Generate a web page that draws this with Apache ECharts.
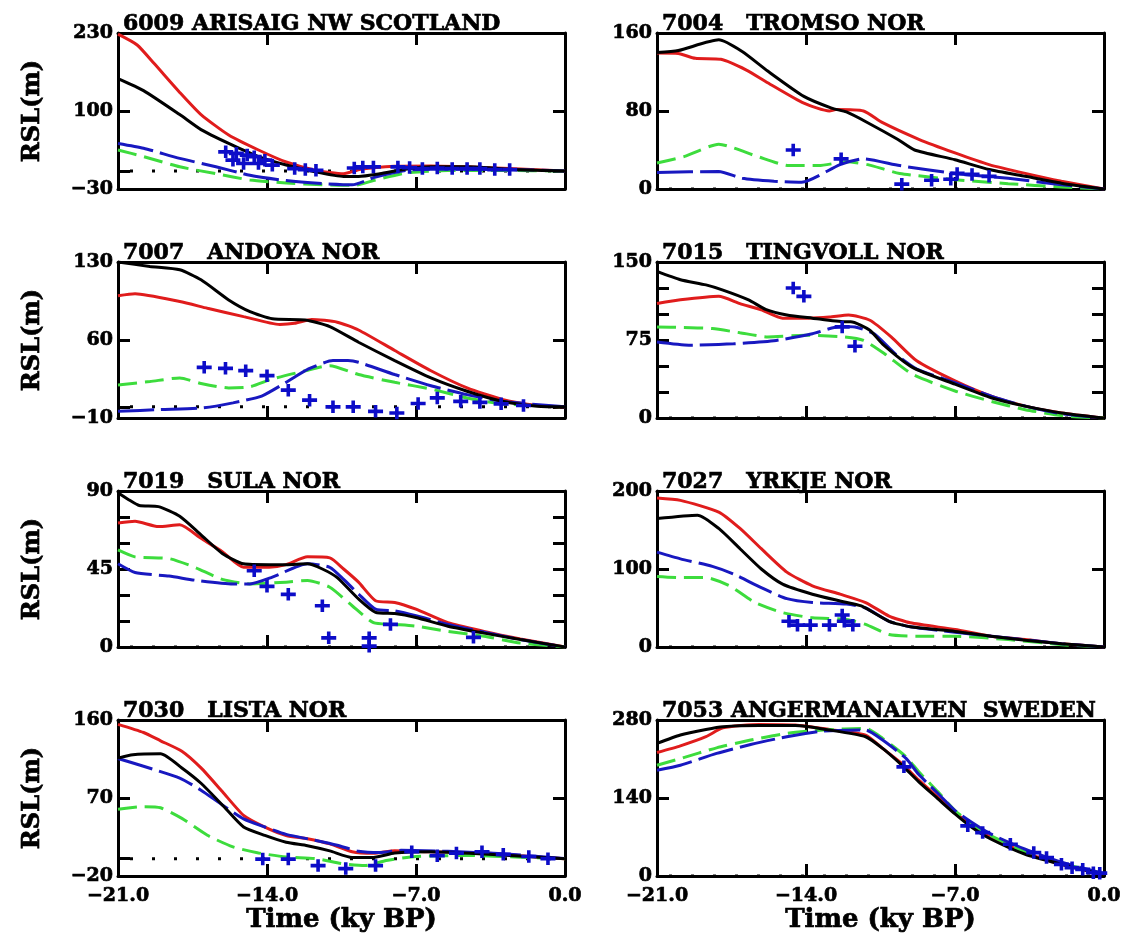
<!DOCTYPE html>
<html>
<head>
<meta charset="utf-8">
<title>Relative sea level histories</title>
<script src="https://cdn.jsdelivr.net/npm/echarts@6/dist/echarts.min.js"></script>
<style>
  html, body { margin: 0; padding: 0; background: #ffffff; }
  #chart { width: 1124px; height: 934px; }
</style>
</head>
<body>
<div id="chart"></div>
<script>
// ---- station labels and axis ranges (RSL in metres, time in ky BP) ----
const TITLES = [
  '6009 ARISAIG NW SCOTLAND',
  '7004   TROMSO NOR',
  '7007   ANDOYA NOR',
  '7015   TINGVOLL NOR',
  '7019   SULA NOR',
  '7027   YRKJE NOR',
  '7030   LISTA NOR',
  '7053 ANGERMANALVEN  SWEDEN'
];
const TIME_TICKS = [-21, -14, -7, 0];
const Y_MIN = [-30, 0, -10, 0, 0, 0, -20, 0];
const Y_MAX = [230, 160, 130, 150, 90, 200, 160, 280];
const Y_LABELS = [
  [-30, 100, 230], [0, 80, 160], [-10, 60, 130], [0, 75, 150],
  [0, 45, 90], [0, 100, 200], [-20, 70, 160], [0, 140, 280]
];
const Y_TICKS = [
  [0, 100], [80], [0, 60], [25, 50, 75, 100, 125],
  [15, 30, 45, 60, 75], [100], [0, 70], [140]
];
const ZERO_LEVEL = [[-21, 0], [0, 0]];

// ---- 6009 Arisaig ----
const ARISAIG_RED = [[-21,228],[-20.1,210],[-19.3,179],[-18.1,131],[-17.1,94],[-15.8,60],[-14.4,35],[-13.1,15],[-11.7,1],[-10.4,-4.5],[-9.6,3],[-8,8],[-6.3,8.5],[-4.6,7],[-2.6,4],[0,0]];
const ARISAIG_BLACK = [[-21,154],[-19.8,134],[-18.1,94],[-17.1,69],[-15.8,46],[-14.4,24],[-13.1,10],[-11.7,-1.6],[-10.4,-9],[-9.7,-9],[-8.7,-4.5],[-7.5,3],[-6.3,7],[-4.6,7],[-2.1,2],[0,0]];
const ARISAIG_BLUE = [[-21,46],[-19.8,38],[-18.1,21],[-16.4,7],[-14.8,-7],[-13.1,-16],[-11.4,-21],[-10,-23],[-8.9,-10],[-7.5,1],[-6.3,3],[-4.6,3],[-2,2],[0,0]];
const ARISAIG_GREEN = [[-21,35],[-19.8,24],[-18.1,7],[-16.4,-4.5],[-14.8,-15],[-13.1,-20],[-11.4,-23],[-9.9,-24],[-8.9,-15],[-7.5,-3.5],[-5.5,1],[-3,1],[0,0]];
const ARISAIG_OBS = [[-15.94,32],[-15.44,29.4],[-14.93,26.6],[-14.6,23.8],[-14.1,18],[-15.6,18],[-15.1,12.5],[-14.4,12.5],[-13.75,9.7],[-12.7,4],[-12.2,2.3],[-11.7,1.2],[-9.9,5],[-9.5,6.8],[-9.0,6.8],[-7.85,6.8],[-7.3,5.7],[-6.7,4],[-6.0,5],[-5.3,4],[-4.6,4],[-4.0,4],[-3.3,2.3],[-2.6,2.3]];

// ---- 7004 Tromso ----
const TROMSO_RED = [[-21,139.5],[-20,139],[-19.2,134],[-18,133],[-16.8,122],[-15.8,109],[-14.1,88],[-12.9,80],[-12.6,81.5],[-11.3,80],[-10.4,68],[-8.7,51],[-7,37],[-5.4,25],[-3.7,16],[-2,8],[0,0]];
const TROMSO_BLACK = [[-21,140],[-20,142],[-18.1,153],[-17,141],[-15.8,121],[-14.1,95],[-12.8,83],[-12.1,79],[-11.1,68],[-9.7,51],[-8.9,40],[-7,30],[-5.4,20],[-3.7,13],[-2,6],[0,0]];
const TROMSO_BLUE = [[-21,17],[-18.1,18],[-17,11],[-15.5,8],[-14.2,7],[-12.4,25],[-11.3,31],[-9.6,24],[-7,16],[-4.5,11],[-2,4.4],[0,0]];
const TROMSO_GREEN = [[-21,26.6],[-19.7,33.5],[-18.1,46],[-16.3,33.5],[-14.8,24],[-13.4,24],[-12.1,28],[-11.1,25],[-9.6,16],[-7,9.6],[-4.5,5.5],[-2,2],[0,0]];
const TROMSO_OBS = [[-14.6,40],[-12.35,31],[-9.5,5],[-8.1,9],[-7.2,10],[-6.9,16],[-6.2,15],[-5.4,13]];

// ---- 7007 Andoya ----
const ANDOYA_RED = [[-21,99.7],[-20.2,101.5],[-18.1,94.5],[-16.8,88.5],[-15.1,81],[-13.4,74],[-12.7,75],[-11.9,78.5],[-10.7,76],[-9.7,69],[-8,50.6],[-6.3,32.4],[-4.6,17],[-2.95,6.7],[-1.3,1.3],[0,0]];
const ANDOYA_BLACK = [[-21,130],[-19.5,126],[-18.1,123],[-17.1,114],[-15.8,96],[-14.8,85.5],[-13.75,79],[-12.2,78],[-11.05,72],[-9.7,58],[-8,41.5],[-6.3,26],[-4.6,14],[-2.95,5],[-1.3,0.6],[0,0]];
const ANDOYA_BLUE = [[-21,-4],[-19,-2.4],[-17,-0.9],[-15.6,3.6],[-14.25,9.7],[-13.1,22],[-12.05,34],[-10.9,41.5],[-10.2,41.5],[-9.7,40],[-8,29],[-6.3,19],[-4.6,11],[-2.95,5],[0,0]];
const ANDOYA_GREEN = [[-21,19.7],[-19.5,22.7],[-18.1,26],[-17.1,21],[-15.8,17],[-14.8,18],[-13.75,25],[-12.2,32.4],[-11.05,37],[-9.7,29],[-8,22],[-6.3,16],[-4.6,8],[-2.95,2.7],[0,0]];
const ANDOYA_OBS = [[-16.95,35.5],[-15.95,34.6],[-15,32.5],[-14,28],[-13,15],[-12,6],[-10.9,0],[-9.95,0],[-8.9,-4],[-7.9,-5.5],[-6.9,3],[-6,8],[-4.9,5],[-4,4],[-3,2.7],[-1.95,1.2]];

// ---- 7015 Tingvoll ----
const TINGVOLL_RED = [[-21,110],[-19.9,113.6],[-18.1,117],[-17.1,110],[-16.1,104],[-15.1,96],[-13.9,96],[-12.9,97],[-12,99],[-11,94],[-10,78],[-8.8,55],[-7,35.7],[-5.3,21],[-3.7,11.4],[-2,4.9],[0,0]];
const TINGVOLL_BLACK = [[-21,141],[-19.9,133],[-18.7,128],[-17.9,123],[-16.7,113.6],[-15.9,104.5],[-14.9,99],[-13.7,96],[-12.2,92.5],[-11.9,92.5],[-11,84.4],[-10.4,71],[-9,48.7],[-7,32.5],[-5.3,19.5],[-3.7,11.4],[-2,4.9],[0,0]];
const TINGVOLL_BLUE = [[-21,73],[-19.5,70],[-17.4,71.4],[-15.4,74.6],[-13.7,81],[-12.4,88],[-11.7,87.5],[-10.8,81],[-9.8,61.6],[-8.8,47],[-7,34],[-5.3,21],[-3.7,11.4],[-2,4],[0,0]];
const TINGVOLL_GREEN = [[-21,87.6],[-19.8,87],[-18.4,86],[-17.1,82],[-15.8,78],[-14.05,79.6],[-12.2,78],[-11.3,74.6],[-10.3,61.6],[-9,42],[-7,26],[-5.3,16],[-3.7,8],[-1.7,1.6],[0,0]];
const TINGVOLL_OBS = [[-14.6,125],[-14.1,117],[-12.3,87.6],[-11.7,69]];

// ---- 7019 Sula ----
const SULA_RED = [[-21,71.5],[-20.2,72.5],[-19.1,69.5],[-18.1,70.5],[-17.1,62.7],[-16.1,55],[-15.1,46],[-13.9,46],[-13.1,47.5],[-12.1,52],[-11.05,51.4],[-10.4,45],[-9.7,37.4],[-8.9,26.7],[-8,25.7],[-7,21.8],[-5.5,14],[-3.8,9],[-2.1,4.7],[0,0]];
const SULA_BLACK = [[-21,89],[-20.5,85],[-20,81.6],[-19.1,81],[-18.1,75.4],[-17.1,64.7],[-16.1,54],[-15.1,48],[-13.9,47.5],[-13.1,47.5],[-12.1,48],[-11.4,45],[-10.7,40],[-9.7,27.7],[-8.9,20],[-8,19.3],[-7,17],[-5.5,12],[-3.8,8],[-2.1,4.3],[0,0]];
const SULA_BLUE = [[-21,48],[-20.2,43],[-18.6,40.9],[-17.3,38.4],[-15.6,36.4],[-14.8,36.4],[-13.75,40.3],[-12.1,48],[-11.05,46],[-10.4,39],[-9.7,30.6],[-8.9,21.8],[-8,20.8],[-7,18],[-5.5,13],[-3.8,8.6],[-2.1,4.3],[0,0]];
const SULA_GREEN = [[-21,56],[-20.2,52],[-18.6,51],[-17.4,46],[-16.1,39],[-14.8,36.4],[-13.1,37.4],[-12.1,38.4],[-11.05,34.5],[-10,23.8],[-9,14],[-8,13],[-7,12],[-5.5,9],[-3.8,6.2],[-2.1,2.3],[0,0]];
const SULA_OBS = [[-14.6,44],[-14,35],[-13,30.4],[-11.4,23.8],[-11.1,5.3],[-9.2,5.3],[-9.2,0.5],[-8.2,13],[-4.3,5.6]];

// ---- 7027 Yrkje ----
const YRKJE_RED = [[-21,191],[-19.9,188],[-18.1,173],[-17.1,152],[-16.1,126],[-14.9,96],[-13.7,78.5],[-12.4,67.7],[-11.2,57],[-10.1,39.7],[-9.1,31],[-7,22.4],[-5.3,13.8],[-3.7,9.5],[-2,4.3],[0,0]];
const YRKJE_BLACK = [[-21,164.7],[-19.1,169],[-18.1,152],[-17.1,126],[-16.1,100],[-15.1,80.6],[-13.7,67.7],[-12.4,59],[-11.4,52.6],[-10.1,33],[-9.1,26],[-7,20],[-5.3,13.8],[-3.7,8.6],[-2,4.3],[0,0]];
const YRKJE_BLUE = [[-21,121.6],[-19.9,113],[-18.4,103.4],[-17.4,93.5],[-16.1,76],[-14.9,62],[-13.7,57],[-12.1,55],[-11.2,50],[-10.1,33],[-9.1,26],[-7,19],[-4.5,11.6],[-2,4.3],[0,0]];
const YRKJE_GREEN = [[-21,90.5],[-19.9,89],[-18.7,89],[-17.6,78.5],[-16.4,57],[-15.1,44],[-13.7,37.5],[-12.1,35.3],[-11.2,29],[-10.1,16],[-8.7,13.8],[-7,13.8],[-4.5,9.5],[-2,3],[0,0]];
const YRKJE_OBS = [[-14.8,33],[-14.4,28],[-13.8,28],[-12.9,28],[-12.3,41],[-12.2,33],[-11.8,28]];

// ---- 7030 Lista ----
const LISTA_RED = [[-21,155],[-19.8,145.6],[-19,136],[-18,124],[-17.1,104.7],[-16.1,77.4],[-15.1,50],[-14.1,36.5],[-13.1,26.8],[-12.1,23],[-11.05,17],[-10,8],[-9,6.3],[-8,9.2],[-6.3,8],[-3.8,6.5],[-2.1,3.4],[0,0]];
const LISTA_BLACK = [[-21,116],[-20.3,120],[-19,121],[-18,104.7],[-17.1,87],[-16.1,62],[-15.1,36.5],[-14.1,26.8],[-13.1,19],[-12.1,15],[-11.05,9],[-10,1.4],[-9,1.4],[-8,6.5],[-6.3,8],[-3.8,5.3],[0,0]];
const LISTA_BLUE = [[-21,115.6],[-19.8,106.6],[-18.1,93],[-17.1,79],[-16.1,62],[-15.1,46],[-14.1,36.5],[-13.1,28],[-11.7,21],[-10.7,15.5],[-9.7,8.5],[-8.7,7],[-7.7,9.6],[-5.5,8.5],[-2.95,5.7],[0,0]];
const LISTA_GREEN = [[-21,57],[-19.8,60],[-19,58.8],[-18,46.5],[-16.8,27],[-15.6,13.6],[-14.4,6.6],[-13.1,1.9],[-11.7,0],[-10.4,-6],[-9.4,-8],[-8.4,-2],[-7,2.5],[-4.6,3.7],[-2.1,1.7],[0,0]];
const LISTA_OBS = [[-14.2,-0.5],[-13,-0.5],[-11.6,-8],[-10.3,-11.4],[-8.9,-8],[-7.2,8],[-6,3.5],[-5.1,6.5],[-3.9,8],[-2.9,5],[-1.7,2.5],[-0.8,0]];

// ---- 7053 Angermanalven ----
const ANGER_RED = [[-21,221.6],[-19.9,233.6],[-18.7,250],[-17.9,266],[-16.2,272],[-14.5,271],[-12.9,263],[-11.2,253],[-10.4,229],[-9.5,202],[-8.7,172],[-7.8,141.5],[-7,114],[-6.2,90],[-5.3,69],[-3.7,42],[-2,21],[0,3]];
const ANGER_BLACK = [[-21,238],[-19.9,253],[-18.7,263],[-17.9,268],[-16.2,270],[-14.5,270],[-12.9,262],[-11.2,250],[-10.4,229],[-9.5,199],[-8.7,169],[-7.8,138.5],[-7,111.4],[-6.2,87],[-5.3,66],[-3.7,39],[-2,21],[0,2]];
const ANGER_BLUE = [[-21,189.7],[-19.9,198.7],[-18.2,220],[-16.6,236],[-14.9,250],[-13.2,260],[-11.2,262],[-10.4,244],[-9.3,211],[-8.7,182],[-7.8,148],[-7,117.5],[-6.2,96],[-5.3,75],[-3.7,48],[-2,25],[0,4]];
const ANGER_GREEN = [[-21,198.7],[-19.9,210.8],[-18.2,230],[-16.6,244],[-14.9,256],[-13.2,262],[-11.2,265],[-10.4,247],[-9.3,214],[-8.7,187],[-7.8,151],[-7,117.5],[-6.2,93],[-5.3,72],[-3.7,43],[-2,23],[0,4]];
const ANGER_OBS = [[-9.4,196],[-6.4,90],[-5.7,78],[-4.4,57],[-3.3,42],[-2.7,33],[-2,21],[-1.5,15],[-1,12],[-0.5,6],[-0.2,5]];

const RED = [ARISAIG_RED, TROMSO_RED, ANDOYA_RED, TINGVOLL_RED, SULA_RED, YRKJE_RED, LISTA_RED, ANGER_RED];
const BLACK = [ARISAIG_BLACK, TROMSO_BLACK, ANDOYA_BLACK, TINGVOLL_BLACK, SULA_BLACK, YRKJE_BLACK, LISTA_BLACK, ANGER_BLACK];
const BLUE = [ARISAIG_BLUE, TROMSO_BLUE, ANDOYA_BLUE, TINGVOLL_BLUE, SULA_BLUE, YRKJE_BLUE, LISTA_BLUE, ANGER_BLUE];
const GREEN = [ARISAIG_GREEN, TROMSO_GREEN, ANDOYA_GREEN, TINGVOLL_GREEN, SULA_GREEN, YRKJE_GREEN, LISTA_GREEN, ANGER_GREEN];
const OBS = [ARISAIG_OBS, TROMSO_OBS, ANDOYA_OBS, TINGVOLL_OBS, SULA_OBS, YRKJE_OBS, LISTA_OBS, ANGER_OBS];

// ---- layout and style ----
const FONT = '"DejaVu Serif", "Liberation Serif", serif';
const COL_LEFT = [118, 657];
const PLOT_W = 447;
const PLOT_H = 156;
const ROW_TOP = 33;
const ROW_PITCH = 229;
const C_RED = '#e01c1c';
const C_BLUE = '#1818c0';
const C_GREEN = '#3ddc3d';
const C_CROSS = '#0c0cc8';
const CROSS = 'path://M0,4.4H15V8.1H0Z M5.7,0H9.3V12.5H5.7Z';

const minus = v => String(v).replace('-', '\u2212');

// heavy lettering: bold face plus a thin outline of the same colour
const heavy = (size) => ({
  fontFamily: FONT, fontWeight: 'bold', fontSize: size, color: '#000',
  textBorderColor: '#000', textBorderWidth: 0.7
});

const frameLine = { show: true, onZero: false, lineStyle: { color: '#000', width: 3 } };
const tickStyle = { color: '#000', width: 3 };

const grids = [], xAxes = [], yAxes = [], series = [], titles = [];

for (let i = 0; i < TITLES.length; i++) {
  const col = i % 2, row = Math.floor(i / 2);
  const left = COL_LEFT[col];
  const top = ROW_TOP + row * ROW_PITCH;
  const bottomRow = row === 3;

  grids.push({ left: left, top: top, width: PLOT_W, height: PLOT_H, outerBoundsMode: 'none', containLabel: false });

  titles.push({
    text: TITLES[i], left: left + 5, top: top - 20, padding: 0,
    textStyle: heavy(22)
  });

  // bottom and top time axes
  xAxes.push({
    gridIndex: i, type: 'value', position: 'bottom', min: TIME_TICKS[0], max: TIME_TICKS[TIME_TICKS.length - 1], interval: 7,
    axisLine: frameLine, splitLine: { show: false },
    axisTick: { show: true, inside: true, length: 12, lineStyle: tickStyle },
    axisLabel: Object.assign({ show: bottomRow, margin: 11, showMinLabel: true, showMaxLabel: true,
      formatter: v => minus(v.toFixed(1)) }, heavy(19)),
    name: bottomRow ? 'Time (ky BP)' : '', nameLocation: 'middle', nameGap: 21,
    nameTextStyle: heavy(26)
  });
  xAxes.push({
    gridIndex: i, type: 'value', position: 'top', min: TIME_TICKS[0], max: TIME_TICKS[TIME_TICKS.length - 1], interval: 7,
    axisLine: frameLine, splitLine: { show: false },
    axisTick: { show: true, inside: true, length: 12, lineStyle: tickStyle },
    axisLabel: { show: false }
  });

  // left and right RSL axes
  yAxes.push({
    gridIndex: i, type: 'value', position: 'left', min: Y_MIN[i], max: Y_MAX[i],
    axisLine: frameLine, splitLine: { show: false },
    axisTick: { show: true, inside: true, length: 12, lineStyle: tickStyle, customValues: Y_TICKS[i] },
    axisLabel: Object.assign({ show: true, margin: 5, customValues: Y_LABELS[i], formatter: v => minus(v) }, heavy(19)),
    name: col === 0 ? 'RSL(m)' : '', nameLocation: 'middle', nameRotate: 90, nameGap: 73,
    nameTextStyle: heavy(24)
  });
  yAxes.push({
    gridIndex: i, type: 'value', position: 'right', min: Y_MIN[i], max: Y_MAX[i],
    axisLine: frameLine, splitLine: { show: false },
    axisTick: { show: true, inside: true, length: 12, lineStyle: tickStyle, customValues: Y_TICKS[i] },
    axisLabel: { show: false }
  });

  const ax = { xAxisIndex: 2 * i, yAxisIndex: 2 * i };
  const curve = (data, color, type, z) => Object.assign({
    type: 'line', data: data, symbol: 'none', showSymbol: false, smooth: 0.2, z: z,
    lineStyle: { color: color, width: 3, type: type, cap: 'butt' }, silent: true
  }, ax);

  series.push(Object.assign({
    type: 'line', data: ZERO_LEVEL, symbol: 'none', z: 1, silent: true,
    lineStyle: { color: '#000', width: 3, type: [3, 19], dashOffset: 10, cap: 'butt' }
  }, ax));
  series.push(curve(RED[i], C_RED, 'solid', 2));
  series.push(curve(GREEN[i], C_GREEN, [19, 8], 3));
  series.push(curve(BLUE[i], C_BLUE, [36, 7], 4));
  series.push(curve(BLACK[i], '#000', 'solid', 5));
  series.push(Object.assign({
    type: 'scatter', data: OBS[i], symbol: CROSS, symbolSize: [15, 12.5], z: 6, silent: true,
    itemStyle: { color: C_CROSS, opacity: 1 }
  }, ax));
}

const chart = echarts.init(document.getElementById('chart'), null, { renderer: 'canvas', devicePixelRatio: 1 });
chart.setOption({
  animation: false,
  backgroundColor: '#ffffff',
  title: titles,
  grid: grids,
  xAxis: xAxes,
  yAxis: yAxes,
  series: series
});
</script>
</body>
</html>
